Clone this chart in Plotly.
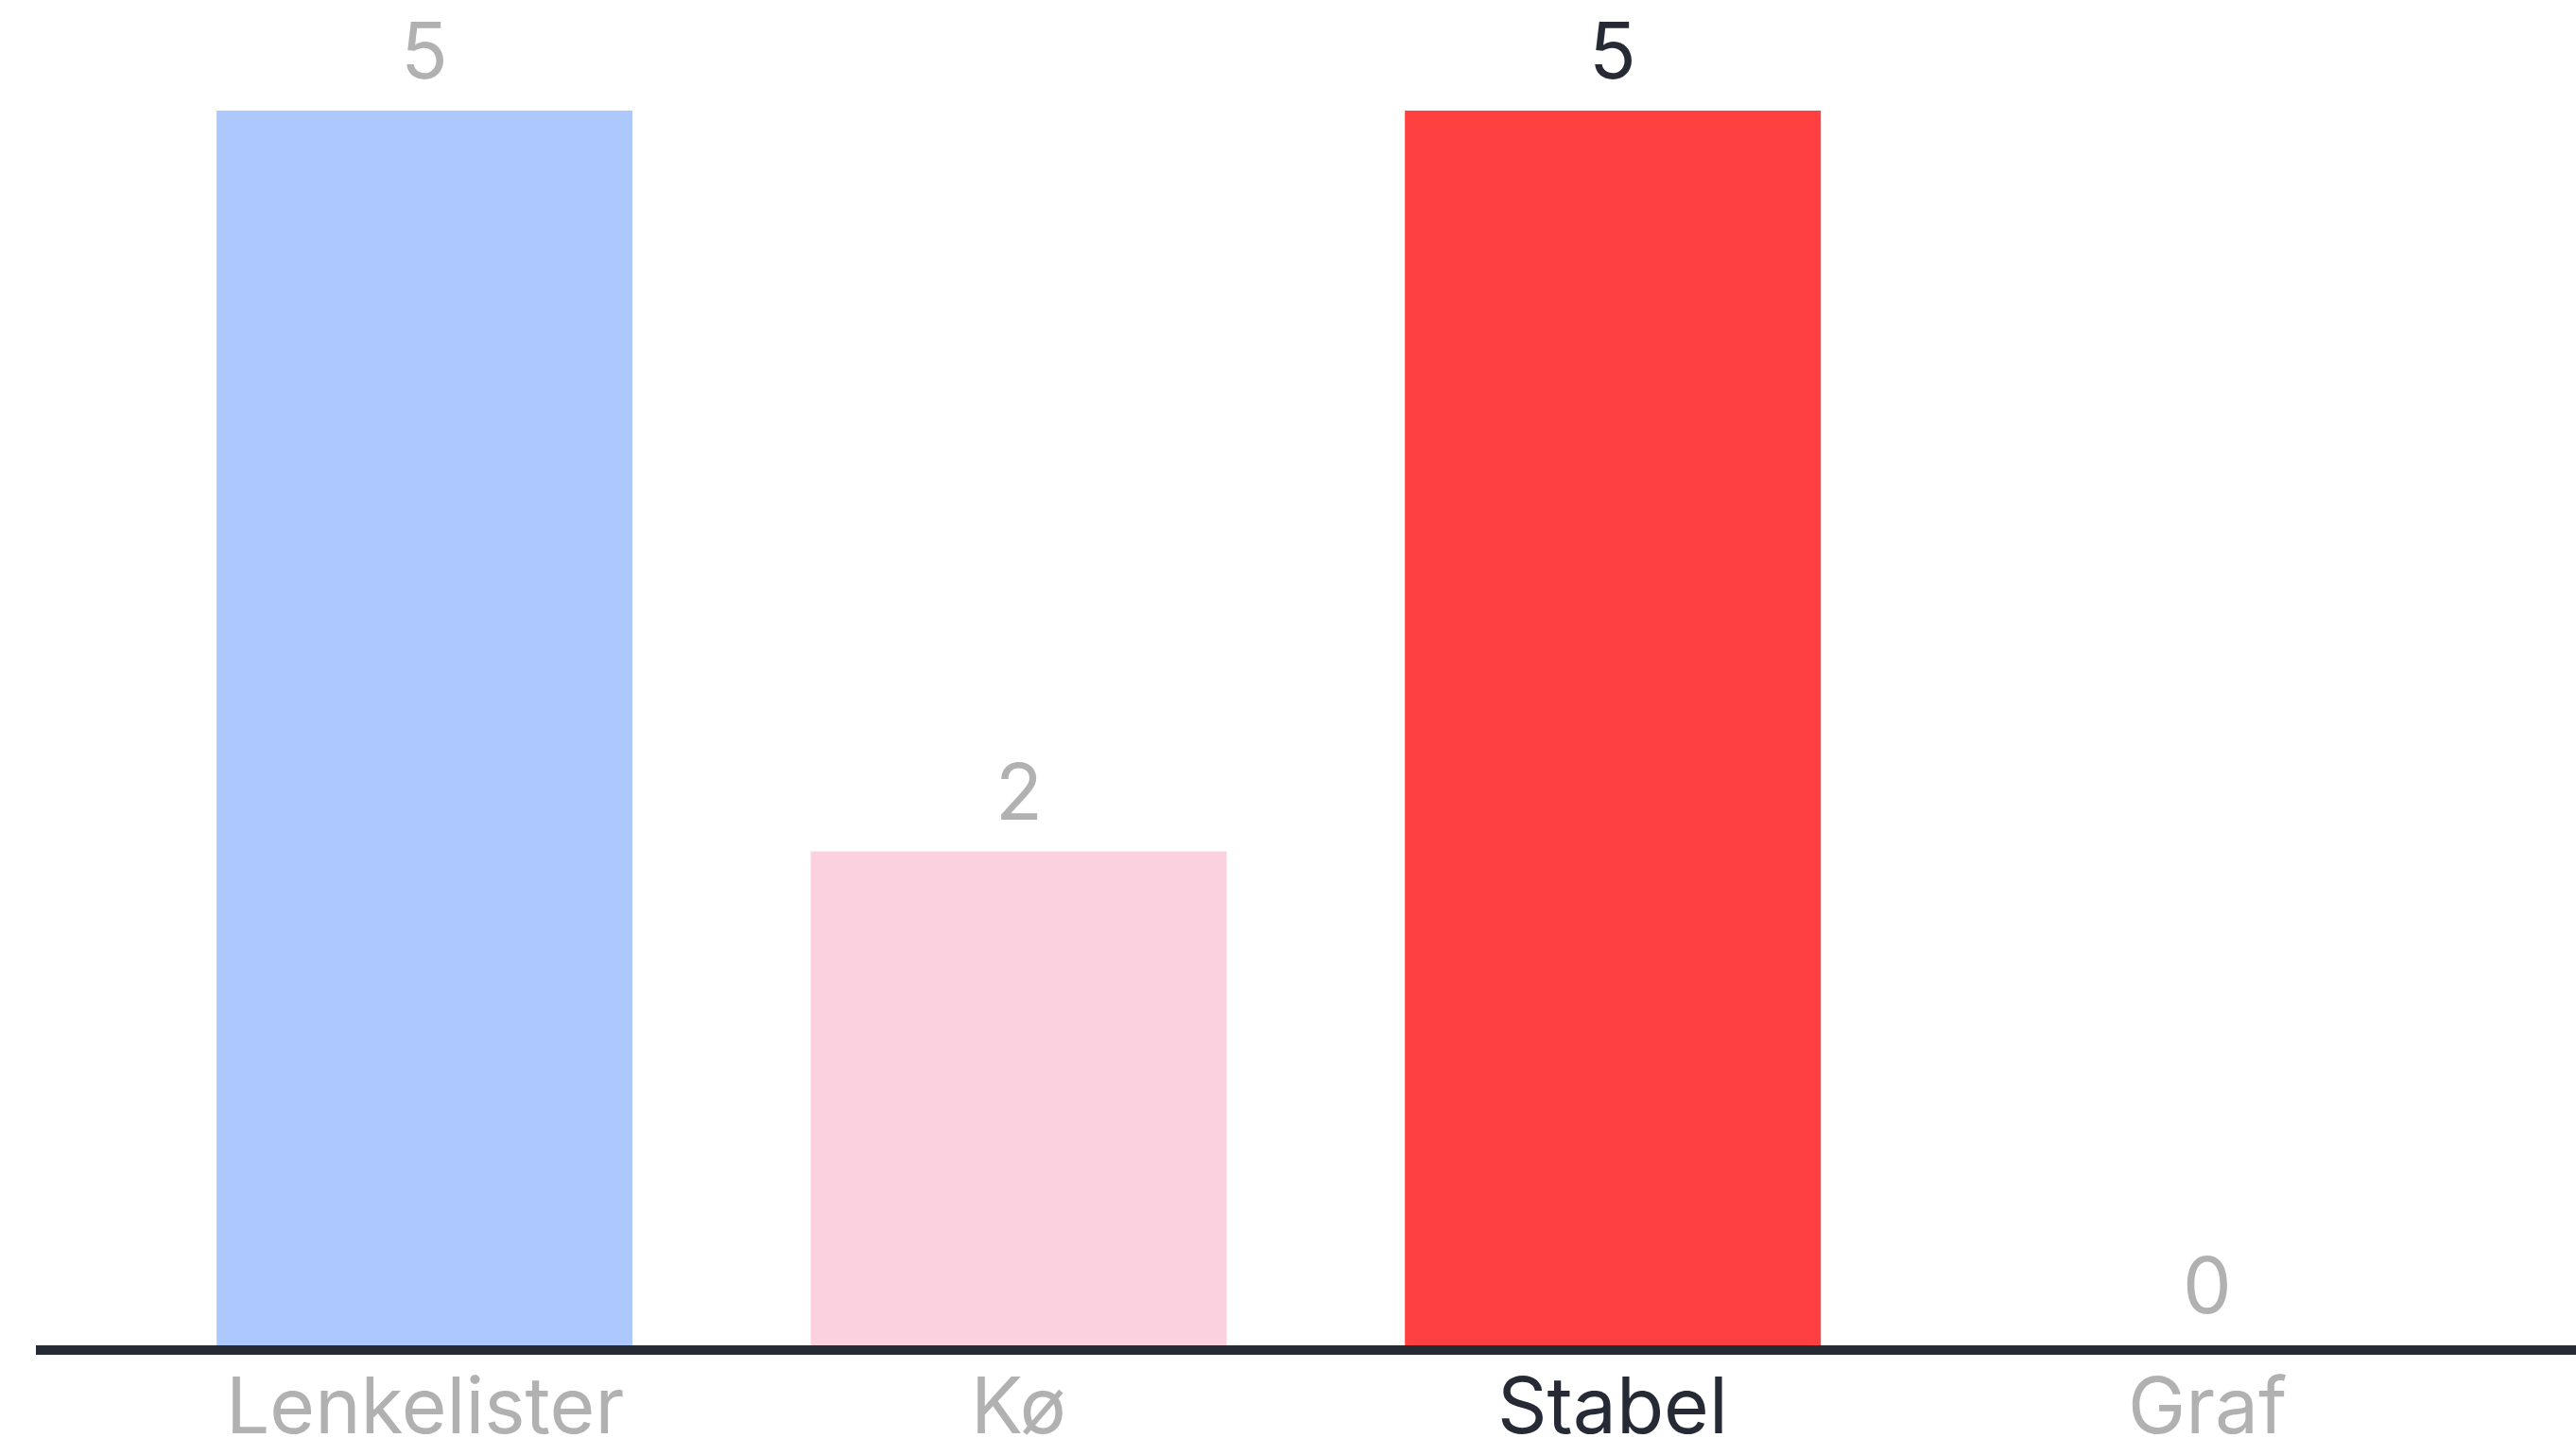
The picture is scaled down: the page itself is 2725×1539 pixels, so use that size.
import plotly.graph_objects as go

# Categories and counts
categories = ["Lenkelister", "Kø", "Stabel", "Graf"]
counts = [5, 2, 5, 0]
bar_colors = ["#adc8fd", "#fcd1df", "#ff4040", "#ffffff"]
label_colors = ["#b1b1b1", "#b1b1b1", "#262a35", "#b1b1b1"]

FONT = "Inter"
FONT_SIZE = 82

fig = go.Figure()
fig.add_trace(go.Bar(
    x=categories,
    y=counts,
    marker=dict(color=bar_colors, line=dict(width=0)),
    width=0.7,
    hoverinfo="skip",
))

annotations = []
for cat, val, col in zip(categories, counts, label_colors):
    # value above each bar
    annotations.append(dict(
        x=cat, y=val, xref="x", yref="y",
        text=str(val), showarrow=False,
        yanchor="bottom", yshift=12,
        font=dict(family=FONT, size=FONT_SIZE, color=col),
    ))
    # category name under the axis
    annotations.append(dict(
        x=cat, y=0, xref="x", yref="y",
        text=cat, showarrow=False,
        yanchor="top", yshift=-12,
        font=dict(family=FONT, size=FONT_SIZE, color=col),
    ))

fig.update_layout(
    width=2725, height=1539,
    margin=dict(l=38, r=0, t=0, b=116),
    paper_bgcolor="white", plot_bgcolor="white",
    showlegend=False,
    annotations=annotations,
    xaxis=dict(
        type="category",
        range=[-0.654, 3.621],
        showline=True, linewidth=10, linecolor="#262a35",
        showgrid=False, zeroline=False, showticklabels=False, ticks="",
    ),
    yaxis=dict(
        range=[0, 5.448],
        visible=False, showgrid=False, zeroline=False,
    ),
)

fig.write_html("out.html")
